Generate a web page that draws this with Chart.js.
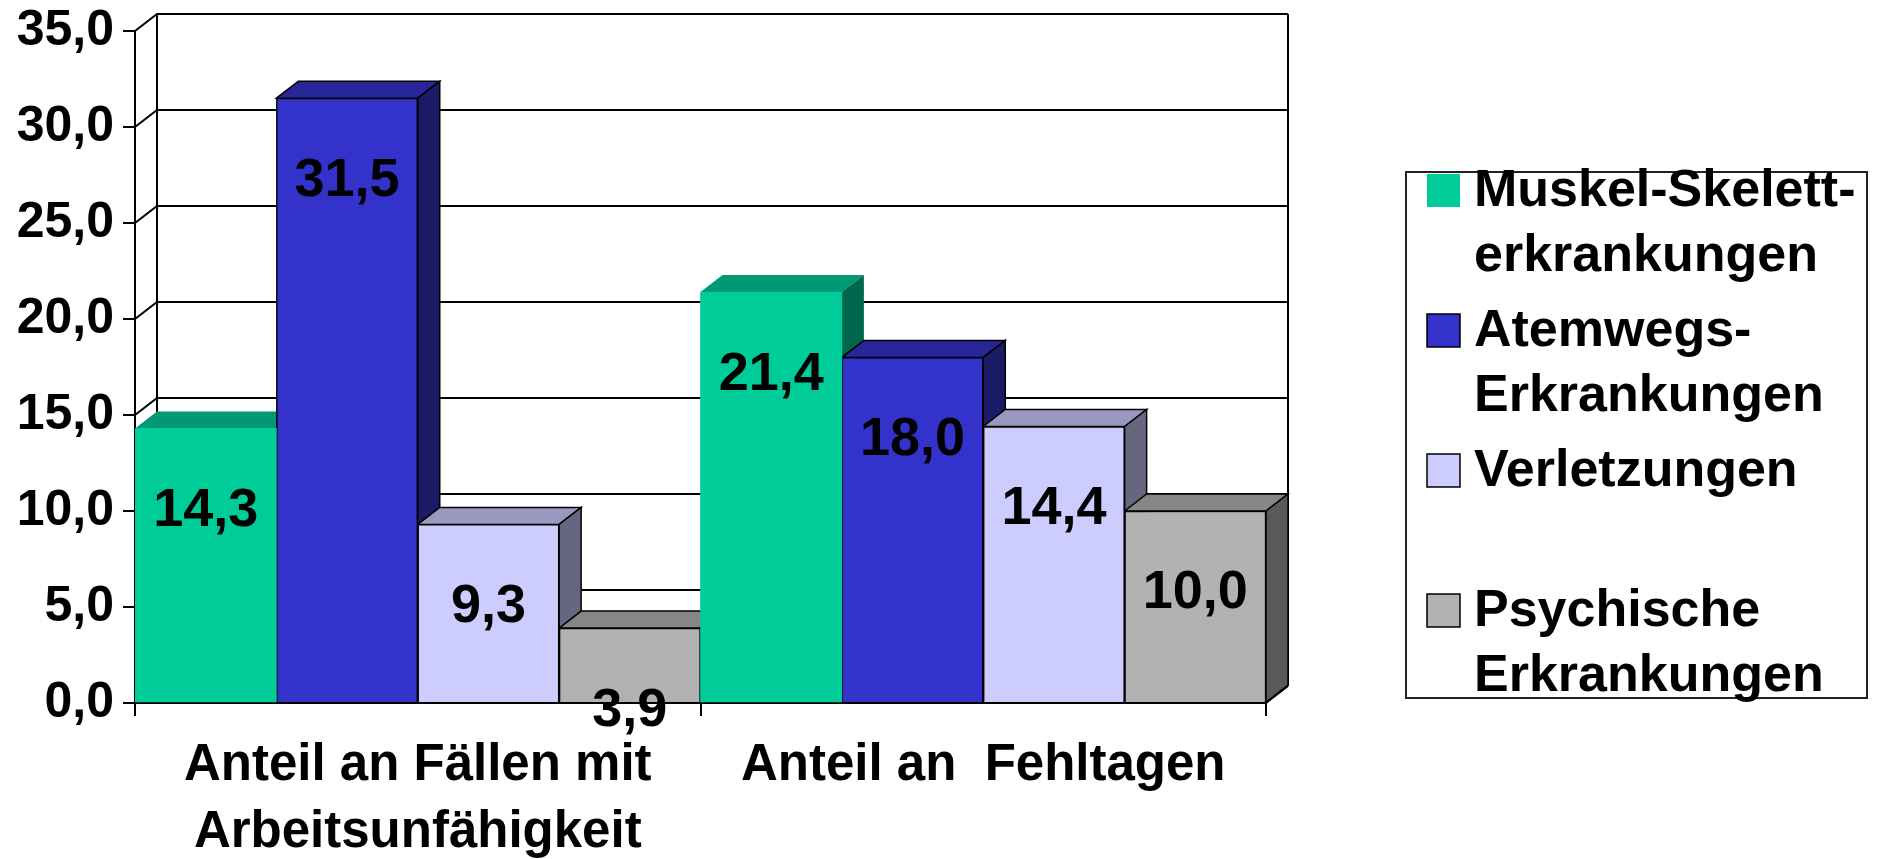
<!DOCTYPE html>
<html>
<head>
<meta charset="utf-8">
<script src="https://cdn.jsdelivr.net/npm/chart.js@4/dist/chart.umd.min.js"></script>
<style>
body { margin: 0; background: #fff; }
canvas { display: block; }
</style>
</head>
<body>
<canvas id="chart" width="1877" height="859"></canvas>
<script>
// values
const categories = [["Anteil an Fällen mit", "Arbeitsunfähigkeit"], "Anteil an  Fehltagen"];
const seriesNames = ["Muskel-Skelett-erkrankungen", "Atemwegs-Erkrankungen", "Verletzungen", "Psychische Erkrankungen"];
const legendLines = [["Muskel-Skelett-", "erkrankungen"], ["Atemwegs-", "Erkrankungen"], ["Verletzungen"], ["Psychische", "Erkrankungen"]];
const muskelSkelett = [14.3, 21.4];
const atemwege = [31.5, 18.0];
const verletzungen = [9.3, 14.4];
const psychische = [3.9, 10.0];
const yMax = 35;
const yStep = 5;

const fronts = ["#00CC99", "#3333CC", "#CCCCFF", "#B2B2B2"];
const tops = ["#009973", "#262699", "#9999BF", "#868686"];
const sides = ["#00664D", "#1A1A66", "#666680", "#595959"];
const outlined = [false, true, true, true];

const FONT = "'Liberation Sans', Arial, sans-serif";
const DX = 22, DY = 17;

function fmt(v){
    return v.toFixed(1).replace(".", ",");
}

const depthPlugin = {
    id: "depth",
    beforeDatasetsDraw(chart){
        const ctx = chart.ctx;
        const a = chart.chartArea;
        const ys = chart.scales.y;
        ctx.save();
        ctx.strokeStyle = "#000";
        ctx.lineWidth = 2;
        // back wall and left wall
        ctx.beginPath();
        for(let v = 0; v <= yMax; v += yStep){
            const y = ys.getPixelForValue(v);
            ctx.moveTo(a.left, y);
            ctx.lineTo(a.left + DX, y - DY);
            ctx.lineTo(a.right + DX, y - DY);
        }
        ctx.moveTo(a.left + DX, a.top - DY);
        ctx.lineTo(a.left + DX, a.bottom - DY);
        ctx.moveTo(a.right + DX, a.top - DY);
        ctx.lineTo(a.right + DX, a.bottom - DY);
        ctx.moveTo(a.right, a.bottom);
        ctx.lineTo(a.right + DX, a.bottom - DY);
        ctx.stroke();

        // top and side faces, left to right
        const n = chart.data.labels.length;
        for(let i = 0; i < n; i++){
            chart.data.datasets.forEach(function(ds, d){
                const bar = chart.getDatasetMeta(d).data[i];
                const p = bar.getProps(["x", "y", "width", "base"], true);
                const l = p.x - p.width / 2, r = p.x + p.width / 2;
                ctx.lineWidth = 1.5;
                ctx.beginPath();
                ctx.moveTo(l, p.y);
                ctx.lineTo(l + DX, p.y - DY);
                ctx.lineTo(r + DX, p.y - DY);
                ctx.lineTo(r, p.y);
                ctx.closePath();
                ctx.fillStyle = tops[d];
                ctx.fill();
                if(outlined[d]) ctx.stroke();
                ctx.beginPath();
                ctx.moveTo(r, p.y);
                ctx.lineTo(r + DX, p.y - DY);
                ctx.lineTo(r + DX, p.base - DY);
                ctx.lineTo(r, p.base);
                ctx.closePath();
                ctx.fillStyle = sides[d];
                ctx.fill();
                if(outlined[d]) ctx.stroke();
            });
        }
        ctx.restore();
    },
    afterDatasetsDraw(chart){
        const ctx = chart.ctx;
        const ys = chart.scales.y;
        ctx.save();
        ctx.font = "bold 54px " + FONT;
        ctx.fillStyle = "#000";
        ctx.textAlign = "center";
        ctx.textBaseline = "middle";
        chart.data.datasets.forEach(function(ds, d){
            chart.getDatasetMeta(d).data.forEach(function(bar, i){
                const v = ds.data[i];
                ctx.fillText(fmt(v), bar.x, ys.getPixelForValue(v - 4.3));
            });
        });
        ctx.restore();
    },
    afterDraw(chart){
        const ctx = chart.ctx;
        ctx.save();
        ctx.strokeStyle = "#222";
        ctx.lineWidth = 2;
        ctx.strokeRect(1406, 172, 461, 526);
        ctx.font = "bold 52px " + FONT;
        ctx.textBaseline = "middle";
        legendLines.forEach(function(lines, k){
            const y0 = 190 + k * 140;
            ctx.fillStyle = fronts[k];
            ctx.fillRect(1427, y0 - 16, 33, 33);
            if(outlined[k]){
                ctx.lineWidth = 1.5;
                ctx.strokeStyle = "#000";
                ctx.strokeRect(1427, y0 - 16, 33, 33);
            }
            ctx.fillStyle = "#000";
            lines.forEach(function(t, j){
                ctx.fillText(t, 1474, y0 + 2 + j * 65);
            });
        });
        ctx.restore();
    }
};

const series = [muskelSkelett, atemwege, verletzungen, psychische];

new Chart(document.getElementById("chart").getContext("2d"), {
    type: "bar",
    data: {
        labels: categories,
        datasets: series.map(function(vals, d){
            return {
                label: seriesNames[d],
                data: vals,
                backgroundColor: fronts[d],
                borderColor: "#000",
                borderWidth: outlined[d] ? 1.5 : 0,
                categoryPercentage: 1,
                barPercentage: 1
            };
        })
    },
    options: {
        responsive: false,
        animation: false,
        layout: { padding: { left: 0, top: 31, right: 611, bottom: 0 } },
        plugins: {
            legend: { display: false },
            tooltip: { enabled: false }
        },
        scales: {
            x: {
                afterFit(s){ s.height = 156; },
                grid: { drawOnChartArea: false, color: "#000", lineWidth: 2, tickLength: 13 },
                border: { color: "#000", width: 2 },
                ticks: {
                    color: "#000",
                    padding: 17,
                    maxRotation: 0,
                    autoSkip: false,
                    font: { family: FONT, size: 51, weight: "bold", lineHeight: 1.3 }
                }
            },
            y: {
                min: 0,
                max: yMax,
                afterFit(s){ s.width = 135; },
                grid: { drawOnChartArea: false, color: "#000", lineWidth: 2, tickLength: 12 },
                border: { color: "#000", width: 2 },
                ticks: {
                    stepSize: yStep,
                    color: "#000",
                    padding: 9,
                    callback: function(v){ return fmt(v); },
                    font: { family: FONT, size: 50, weight: "bold", lineHeight: 0.8 }
                }
            }
        }
    },
    plugins: [depthPlugin]
});
</script>
</body>
</html>
